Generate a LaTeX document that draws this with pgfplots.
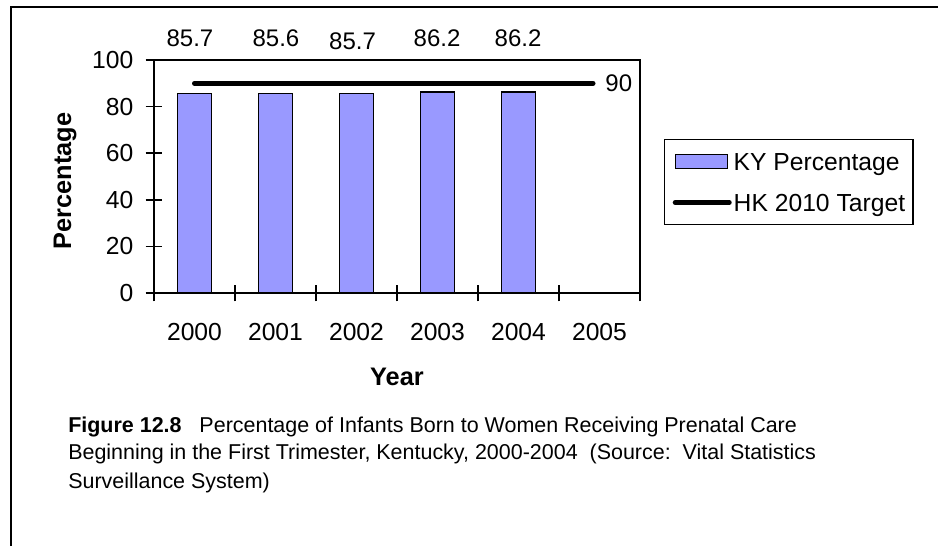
\documentclass[border=0pt]{standalone}
\usepackage{pgfplots}
\pgfplotsset{compat=1.18}
\usepackage{fontspec}
\setmainfont{Liberation Sans}
\definecolor{barfill}{HTML}{9999FF}
\pgfplotsset{
  barleg/.style={legend image code/.code={\draw[##1, line width=1.1pt] (0pt,-5.25pt) rectangle (39pt,5.25pt);}},
  lineleg/.style={legend image code/.code={\draw[##1] (0pt,0pt) -- (40.5pt,0pt);}},
}
\begin{document}
\begin{tikzpicture}[x=0.75pt,y=0.75pt]
\useasboundingbox (0,0) rectangle (938,546);
\draw[line width=1.6pt] (11,0) -- (11,539.3) -- (938,539.3);
\begin{axis}[
  at={(115.5pt,189.75pt)}, anchor=south west,
  scale only axis, width=364.5pt, height=174.75pt,
  xmin=-0.5, xmax=5.5, ymin=0, ymax=100,
  xtick={-0.5,0.5,...,5.5},
  xticklabels={2000,2001,2002,2003,2004,2005},
  x tick label as interval,
  ytick={0,20,...,100},
  /pgf/number format/assume math mode=true,
  tick pos=left,
  tick align=center,
  major tick length=12.5pt,
  every tick/.style={black, line width=1.1pt},
  axis line style={line width=1.1pt},
  ticklabel style={font=\fontsize{18.5}{22}\selectfont},
  yticklabel style={inner sep=0pt, anchor=east, xshift=-9pt},
  xticklabel style={inner sep=0pt, anchor=north, yshift=-16.5pt},
  ylabel={\textbf{Percentage}},
  ylabel style={font=\fontsize{19}{22}\selectfont, at={(axis description cs:-0.183,0.481)}, anchor=center, inner sep=0pt},
  xlabel={\textbf{Year}},
  xlabel style={font=\fontsize{19}{22}\selectfont, at={(axis description cs:0.5,-0.36)}, anchor=center, inner sep=0pt},
  clip=false,
  legend cell align=left,
  legend style={
    draw=black, line width=1.1pt, fill=white,
    at={(1.0494,0.661)}, anchor=north west,
    inner xsep=6pt, inner ysep=1pt,
    column sep=1.5pt, row sep=0pt,
    nodes={inner sep=0pt, text height=21.8pt, text depth=8.9pt, font=\fontsize{18.5}{22}\selectfont},
  },
]
\addplot[ybar, bar width=25.5pt, fill=barfill, draw=black, line width=1.1pt, barleg]
  coordinates {(0,85.7) (1,85.6) (2,85.7) (3,86.2) (4,86.2)};
\addlegendentry{KY Percentage}
\addplot[black, line width=3.75pt, line cap=round, mark=none, sharp plot, lineleg]
  coordinates {(0,90) (4.92,90)};
\addlegendentry{HK 2010 Target}
\begin{scope}[font=\fontsize{18}{22}\selectfont]
\node[anchor=base] at (axis cs:-0.056,105.7) {85.7};
\node[anchor=base] at (axis cs:1.006,105.7) {85.6};
\node[anchor=base] at (axis cs:1.951,104.6) {85.7};
\node[anchor=base] at (axis cs:2.994,105.7) {86.2};
\node[anchor=base] at (axis cs:3.994,105.7) {86.2};
\node[anchor=west, inner sep=0pt] at (axis cs:5.07,90) {90};
\end{scope}
\end{axis}
\begin{scope}[font=\fontsize{16.1}{21}\selectfont]
\node[anchor=base west, inner sep=0pt] at (68,113.3) {\textbf{Figure 12.8}\ \ \ Percentage of Infants Born to Women Receiving Prenatal Care};
\node[anchor=base west, inner sep=0pt] at (68,86) {Beginning in the First Trimester, Kentucky, 2000-2004\ \ (Source:\ \ Vital Statistics};
\node[anchor=base west, inner sep=0pt] at (68,58) {Surveillance System)};
\end{scope}
\end{tikzpicture}
\end{document}
